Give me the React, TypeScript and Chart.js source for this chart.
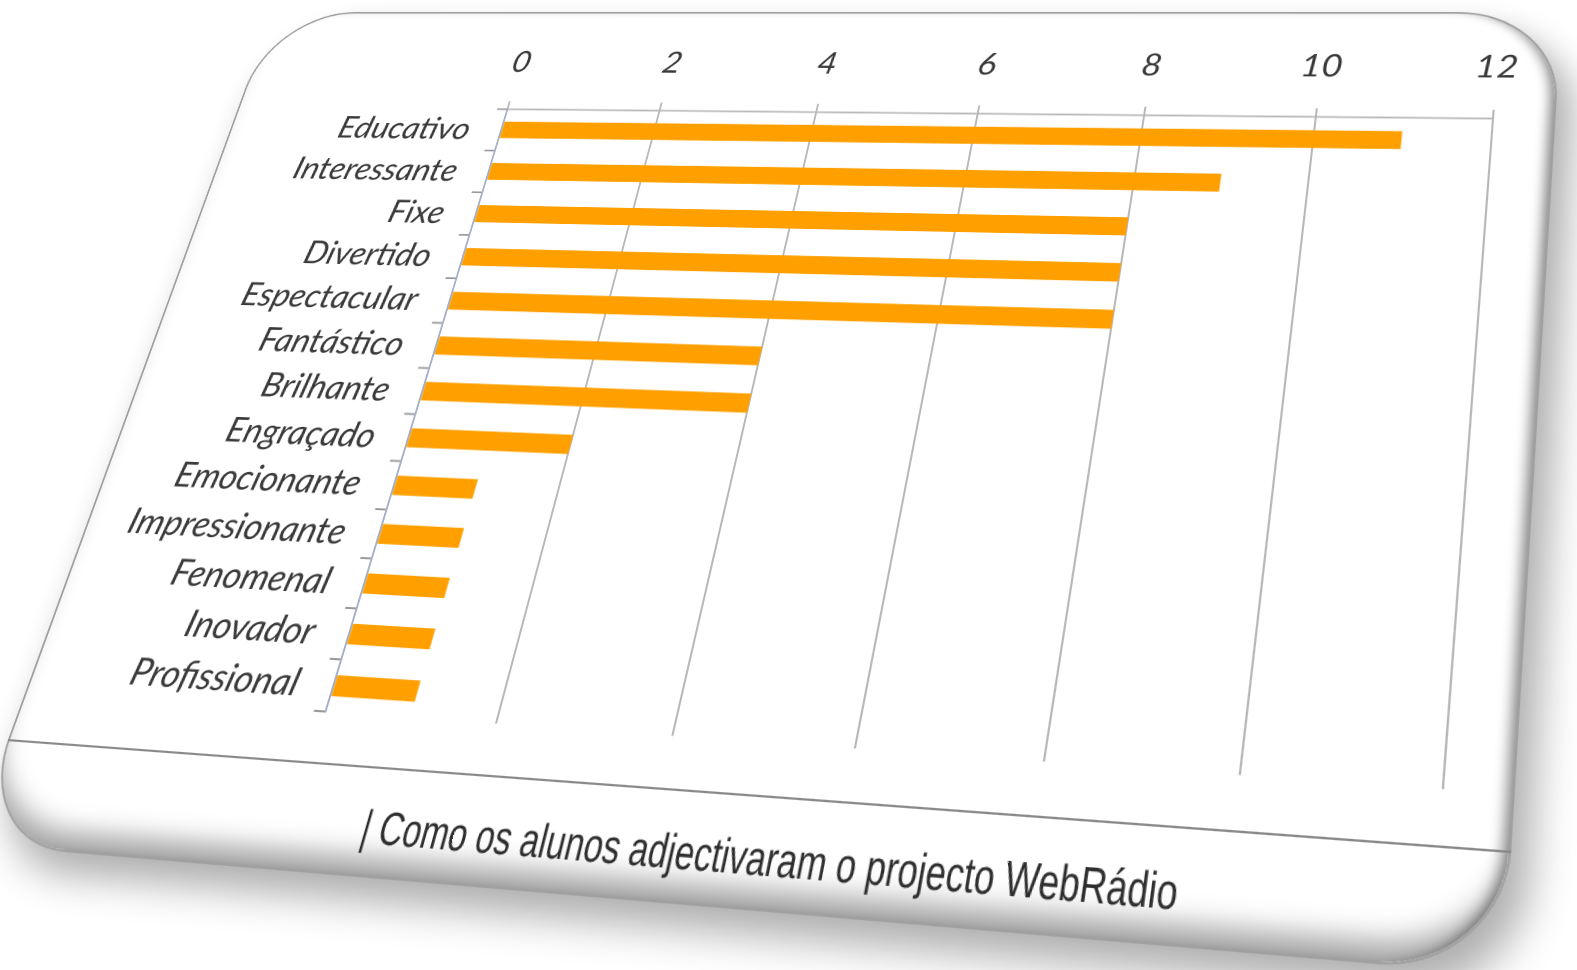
import React, { useEffect, useRef } from "react";
import { Chart, registerables } from "chart.js";

Chart.register(...registerables);

// ---------- data ----------
const categories = [
  "Educativo",
  "Interessante",
  "Fixe",
  "Divertido",
  "Espectacular",
  "Fantástico",
  "Brilhante",
  "Engraçado",
  "Emocionante",
  "Impressionante",
  "Fenomenal",
  "Inovador",
  "Profissional",
];
const counts = [11, 9, 8, 8, 8, 4, 4, 2, 1, 1, 1, 1, 1];
const axisMin = 0;
const axisMax = 12;
const axisStep = 2;
const caption = "| Como os alunos adjectivaram o projecto WebRádio";

// ---------- layout (flat card, then projected) ----------
const W = 1400;
const H = 920;
const QUAD: number[][] = [
  [273, 12],
  [1562, 12],
  [1504, 975],
  [-30, 844],
];

function squareToQuad(q: number[][]) {
  const [[x0, y0], [x1, y1], [x2, y2], [x3, y3]] = q;
  const dx1 = x1 - x2, dx2 = x3 - x2, dx3 = x0 - x1 + x2 - x3;
  const dy1 = y1 - y2, dy2 = y3 - y2, dy3 = y0 - y1 + y2 - y3;
  const den = dx1 * dy2 - dx2 * dy1;
  const g = (dx3 * dy2 - dx2 * dy3) / den;
  const h = (dx1 * dy3 - dx3 * dy1) / den;
  return {
    a: x1 - x0 + g * x1,
    b: x3 - x0 + h * x3,
    c: x0,
    d: y1 - y0 + g * y1,
    e: y3 - y0 + h * y3,
    f: y0,
    g,
    h,
  };
}
const HM = squareToQuad(QUAD);
function toFlat(X: number, Y: number): [number, number] {
  const { a, b, c, d, e, f, g, h } = HM;
  const A1 = a - X * g, B1 = b - X * h, C1 = X - c;
  const A2 = d - Y * g, B2 = e - Y * h, C2 = Y - f;
  const det = A1 * B2 - A2 * B1;
  const u = (C1 * B2 - C2 * B1) / det;
  const v = (A1 * C2 - A2 * C1) / det;
  return [u * W, v * H];
}
const MATRIX = `matrix3d(${HM.a / W},${HM.d / W},0,${HM.g / W},${HM.b / H},${HM.e / H},0,${HM.h / H},0,0,1,0,${HM.c},${HM.f},0,1)`;

const pTL = toFlat(507, 110);
const pTR = toFlat(1493, 118);
const pBL = toFlat(326, 712);
const sepL = toFlat(100, 737);
const sepR = toFlat(1400, 853);
const SEP_Y = (sepL[1] + sepR[1]) / 2;
const PLOT_LEFT = (pTL[0] + pBL[0]) / 2;
const PLOT_TOP = (pTL[1] + pTR[1]) / 2;
const PLOT_RIGHT = pTR[0];
const PLOT_BOTTOM = pBL[1];

const xl0 = toFlat(525, 62);
const xl12 = toFlat(1507, 68);
const X_LABEL_Y = (xl0[1] + xl12[1]) / 2;
const yl0 = toFlat(472, 128);
const yl1 = toFlat(298, 680);
const Y_LABEL_RIGHT = (yl0[0] + yl1[0]) / 2;

const tl = toFlat(363, 825);
const tr = toFlat(1178, 890);
const TITLE_LEFT = tl[0];
const TITLE_W = tr[0] - tl[0];
const TITLE_CY = (tl[1] + tr[1]) / 2;

const Y_AXIS_W = 270;
const X_AXIS_H = 100;
const TICK_LEN_X = 10;
const TICK_LEN_Y = 12;
const X_FONT = 36;
const Y_FONT = 37;

export default function App() {
  const ref = useRef<HTMLCanvasElement | null>(null);
  const titleRef = useRef<HTMLSpanElement | null>(null);

  useEffect(() => {
    const t = titleRef.current;
    if (t) {
      const w = t.offsetWidth;
      if (w > 0) t.style.transform = `translateY(-50%) scaleX(${TITLE_W / w})`;
    }
    if (!ref.current) return;
    const xPad = Math.max(0, PLOT_TOP - TICK_LEN_X - (X_FONT * 1.2) / 2 - X_LABEL_Y);
    const yPad = Math.max(0, PLOT_LEFT - TICK_LEN_Y - Y_LABEL_RIGHT);
    const chart = new Chart(ref.current, {
      type: "bar",
      data: {
        labels: categories,
        datasets: [
          {
            data: counts,
            backgroundColor: "#FFA000",
            borderWidth: 0,
            barPercentage: 0.8,
            categoryPercentage: 0.5,
          },
        ],
      },
      options: {
        indexAxis: "y",
        animation: false,
        responsive: false,
        devicePixelRatio: 2,
        layout: {
          padding: {
            left: PLOT_LEFT - Y_AXIS_W,
            top: PLOT_TOP - X_AXIS_H,
            right: W - PLOT_RIGHT,
            bottom: SEP_Y - PLOT_BOTTOM,
          },
        },
        plugins: {
          legend: { display: false },
          tooltip: { enabled: false },
          title: { display: false },
        },
        scales: {
          x: {
            position: "top",
            min: axisMin,
            max: axisMax,
            ticks: {
              stepSize: axisStep,
              color: "#383838",
              padding: xPad,
              font: { family: "Lato", style: "italic", size: X_FONT },
            },
            grid: {
              color: "#b8b8b8",
              lineWidth: 2,
              tickLength: TICK_LEN_X,
            },
            border: { display: true, color: "#b8b8b8", width: 2 },
            afterFit: (s: any) => {
              s.height = X_AXIS_H;
            },
          },
          y: {
            ticks: {
              color: "#3a3a3a",
              padding: yPad,
              autoSkip: false,
              font: { family: "Lato", style: "italic", size: Y_FONT },
            },
            grid: {
              offset: true,
              drawOnChartArea: false,
              color: "#9a9a9a",
              lineWidth: 2,
              tickLength: TICK_LEN_Y,
            },
            border: { display: true, color: "#a4b0c8", width: 2 },
            afterFit: (s: any) => {
              s.width = Y_AXIS_W;
            },
          },
        },
      },
    });
    return () => chart.destroy();
  }, []);

  return (
    <div
      style={{
        position: "fixed",
        left: 0,
        top: 0,
        width: 1577,
        height: 970,
        overflow: "hidden",
        background: "#ffffff",
      }}
    >
      <div
        style={{
          position: "absolute",
          left: 0,
          top: 0,
          width: W,
          height: H,
          transformOrigin: "0 0",
          transform: MATRIX,
          background: "#ffffff",
          borderRadius: 100,
          border: "2px solid #a0a0a0",
          boxSizing: "border-box",
          boxShadow:
            "inset 0 -30px 24px -14px rgba(0,0,0,0.36), inset -10px 0 12px -6px rgba(0,0,0,0.45), 16px 20px 34px rgba(0,0,0,0.32)",
        }}
      >
        <div style={{ position: "absolute", left: -2, top: -2, width: W, height: SEP_Y }}>
          <canvas ref={ref} width={W} height={SEP_Y} style={{ display: "block" }} />
        </div>
        <div
          style={{
            position: "absolute",
            left: -2,
            top: SEP_Y - 2,
            width: W,
            height: H - SEP_Y,
            borderTop: "2px solid #8a8a8a",
            boxSizing: "border-box",
          }}
        >
          <span
            ref={titleRef}
            style={{
              position: "absolute",
              left: TITLE_LEFT,
              top: TITLE_CY - SEP_Y,
              transform: "translateY(-50%)",
              transformOrigin: "0 50%",
              whiteSpace: "nowrap",
              fontFamily: "'Liberation Sans', Arial, sans-serif",
              fontSize: 42,
              color: "#2e2e2e",
            }}
          >
            {caption}
          </span>
        </div>
      </div>
    </div>
  );
}
